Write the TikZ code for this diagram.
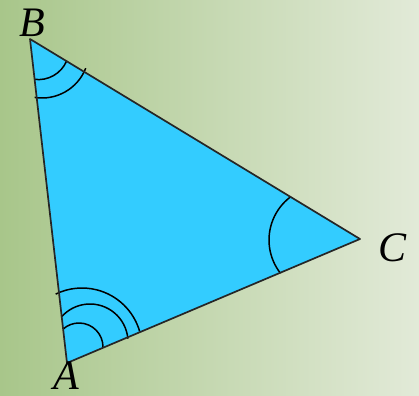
\documentclass[tikz,border=0pt]{standalone}
\usepackage{fontspec}
\setmainfont{Liberation Serif}
\definecolor{bgleft}{RGB}{168,198,138}
\definecolor{bgright}{RGB}{226,234,216}
\definecolor{trifill}{RGB}{51,204,255}
\tikzset{
  edge/.style={line width=1.7pt, draw=black!85, line join=round},
  anglemark/.style={line width=1.5pt, black},
  vlabel/.style={inner sep=0pt, font=\fontsize{42}{42}\selectfont\itshape}
}
\begin{document}
\begin{tikzpicture}[x=1pt,y=-1pt]
  \shade[left color=bgleft,right color=bgright] (0,0) rectangle (419,395);
  \useasboundingbox (0,0) rectangle (419,395);
  \coordinate (A) at (67,363);
  \coordinate (B) at (30,39);
  \coordinate (C) at (360,239);
  \fill[trifill] (A) -- (B) -- (C) -- cycle;
  % angle at A
  \draw[anglemark] (79,347) ++(1:24) arc[start angle=1, end angle=-132, radius=24];
  \draw[anglemark] (90,342) ++(-5:38) arc[start angle=-5, end angle=-139, radius=38];
  \draw[anglemark] (82,348) ++(-16:60) arc[start angle=-16, end angle=-116, radius=60];
  % angle at B
  \draw[anglemark] (38.4,48.9) ++(22.6:30.7) arc[start angle=22.6, end angle=98, radius=30.7];
  \draw[anglemark] (42,51) ++(21.5:47) arc[start angle=21.5, end angle=99, radius=47];
  % angle at C
  \draw[anglemark] (323,240) ++(142:54) arc[start angle=142, end angle=232.5, radius=54];
  \draw[edge] (A) -- (B) -- (C) -- cycle;
  \node[vlabel] (labA) at (66,376) {A};
  \node[vlabel] (labB) at (32,23) {B};
  \node[vlabel] (labC) at (392,248) {C};
\end{tikzpicture}
\end{document}
